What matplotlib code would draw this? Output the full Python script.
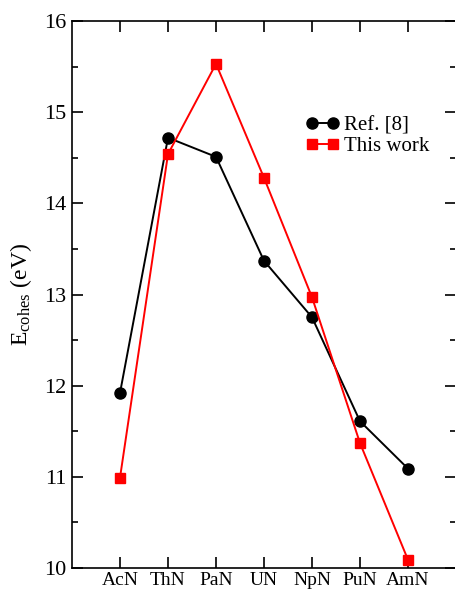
import numpy as np
import matplotlib
matplotlib.use('Agg')
import matplotlib.pyplot as plt
from matplotlib.ticker import MultipleLocator

plt.rcParams['font.family'] = ['Liberation Serif', 'DejaVu Serif']
plt.rcParams['mathtext.fontset'] = 'custom'
plt.rcParams['mathtext.rm'] = 'Liberation Serif'
plt.rcParams['mathtext.it'] = 'Liberation Serif:italic'

compounds = ['AcN', 'ThN', 'PaN', 'UN', 'NpN', 'PuN', 'AmN']
ref8 = [11.92, 14.72, 14.51, 13.37, 12.75, 11.61, 11.09]
this_work = [10.99, 14.54, 15.53, 14.28, 12.97, 11.37, 10.09]

fig = plt.figure(figsize=(4.55, 5.89), dpi=100)
ax = fig.add_axes([72/455, 21/589, 384/455, 547/589])

x = np.arange(len(compounds))
ax.plot(x, ref8, color='black', marker='o', markersize=8, linewidth=1.4, label='Ref. [8]')
ax.plot(x, this_work, color='red', marker='s', markersize=7, linewidth=1.4, label='This work')

ax.set_xlim(-1, 7)
ax.set_ylim(10, 16)
ax.set_xticks(x)
ax.set_xticklabels(compounds, fontsize=14)
ax.yaxis.set_major_locator(MultipleLocator(1))
ax.yaxis.set_minor_locator(MultipleLocator(0.5))
ax.tick_params(axis='both', which='both', direction='in', top=True, right=True, width=1.2)
ax.tick_params(axis='both', which='major', length=8)
ax.tick_params(axis='both', which='minor', length=4)
ax.tick_params(axis='y', labelsize=16, pad=4)
ax.tick_params(axis='x', pad=3)
for s in ax.spines.values():
    s.set_linewidth(1.2)

ax.set_ylabel(r'E$_{\mathrm{cohes}}$ (eV)', fontsize=17, labelpad=7)

ax.legend(loc='upper left', bbox_to_anchor=(0.587, 0.842), frameon=False, fontsize=15,
          handlelength=1.6, handletextpad=0.25, labelspacing=0.05, borderaxespad=0,
          numpoints=2, markerscale=1.0)

fig.savefig('out.png', dpi=100)
